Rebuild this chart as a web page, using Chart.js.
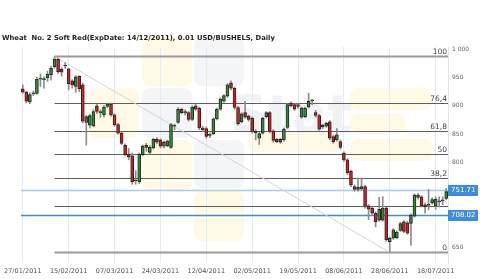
<!DOCTYPE html>
<html><head><meta charset="utf-8">
<script src="https://cdn.jsdelivr.net/npm/chart.js@4.4.1/dist/chart.umd.min.js"></script>
<style>html,body{margin:0;padding:0;background:#fff}canvas{display:block}</style>
</head><body>
<canvas id="c" width="500" height="279"></canvas>
<script>
const chartTitle = "Wheat  No. 2 Soft Red(ExpDate: 14/12/2011), 0.01 USD/BUSHELS, Daily";
const dates = [
"27/01/2011","28/01/2011","31/01/2011",
"01/02/2011","02/02/2011","03/02/2011","04/02/2011","07/02/2011","08/02/2011","09/02/2011","10/02/2011","11/02/2011","14/02/2011",
"15/02/2011","16/02/2011","17/02/2011","18/02/2011","22/02/2011","23/02/2011","24/02/2011","25/02/2011","28/02/2011",
"01/03/2011","02/03/2011","03/03/2011","04/03/2011","07/03/2011","08/03/2011","09/03/2011","10/03/2011","11/03/2011",
"14/03/2011","15/03/2011","16/03/2011","17/03/2011","18/03/2011","21/03/2011","22/03/2011","23/03/2011","24/03/2011",
"25/03/2011","28/03/2011","29/03/2011","30/03/2011","31/03/2011",
"01/04/2011","04/04/2011","05/04/2011","06/04/2011","07/04/2011","08/04/2011","11/04/2011","12/04/2011","13/04/2011",
"14/04/2011","15/04/2011","18/04/2011","19/04/2011","20/04/2011","21/04/2011","25/04/2011","26/04/2011","27/04/2011",
"28/04/2011","29/04/2011",
"02/05/2011","03/05/2011","04/05/2011","05/05/2011","06/05/2011","09/05/2011","10/05/2011","11/05/2011","12/05/2011",
"13/05/2011","16/05/2011","17/05/2011","18/05/2011","19/05/2011","20/05/2011","23/05/2011","24/05/2011","25/05/2011",
"26/05/2011","27/05/2011","31/05/2011",
"01/06/2011","02/06/2011","03/06/2011","06/06/2011","07/06/2011","08/06/2011","09/06/2011","10/06/2011","13/06/2011",
"14/06/2011","15/06/2011","16/06/2011","17/06/2011","21/06/2011","22/06/2011","23/06/2011","24/06/2011","27/06/2011",
"28/06/2011","29/06/2011","30/06/2011",
"01/07/2011","05/07/2011","06/07/2011","07/07/2011","08/07/2011","11/07/2011","12/07/2011","13/07/2011","14/07/2011",
"15/07/2011","18/07/2011","19/07/2011","20/07/2011","21/07/2011"
];
const open  = [930,924,907,921,922,947,946,949,955,969,982,964,970,965,944,934,952,937,871,866,865,900,888,884,899,903,884,867,852,831,
815,812,768,766,814,831,818,826,841,840,829,830,827,864,871,894,888,888,876,900,896,861,860,848,851,877,894,908,917,940,
931,897,872,888,882,878,855,843,852,881,888,856,841,841,840,862,905,902,899,880,881,898,909,888,883,866,864,872,846,840,
837,817,805,785,758,753,754,758,724,720,711,699,699,720,661,667,668,681,696,694,693,706,743,740,726,725,729,724,733,733,737];
const high  = [937,926,923,926,950,956,951,961,970,987,984,967,976,966,946,953,953,940,883,885,893,903,893,901,905,905,886,869,854,833,
825,817,786,817,831,834,830,843,844,842,838,840,869,868,897,896,893,890,900,903,898,864,863,852,879,896,914,920,939,944,
933,899,888,908,884,880,858,853,880,890,890,858,843,843,861,904,907,904,905,898,898,922,911,892,885,868,871,874,848,860,
840,819,807,787,761,773,773,760,726,722,713,739,740,722,669,684,680,695,698,697,710,745,746,742,729,753,738,740,740,740,755];
const low   = [922,905,904,918,920,934,931,943,945,966,957,952,966,928,931,924,925,870,831,861,863,886,880,880,897,882,864,850,832,812,
805,762,762,763,812,820,815,824,833,826,826,828,825,858,869,886,884,873,874,892,858,855,843,844,849,875,892,906,915,928,
894,866,870,878,873,852,840,832,850,879,852,836,835,834,838,860,898,892,896,878,879,896,902,880,857,860,862,840,834,838,
824,802,779,758,750,750,751,720,700,708,687,697,697,662,642,665,666,679,677,674,655,704,736,722,711,717,727,718,722,726,735];
const close = [924,908,920,923,947,948,947,956,966,982,960,959,971,939,937,951,930,873,881,883,890,890,890,898,903,884,867,852,834,814,
810,766,770,815,829,827,827,841,836,829,836,838,867,865,894,888,889,876,898,894,861,858,846,849,877,894,912,918,937,931,
897,868,886,880,876,855,853,851,878,888,855,839,837,836,859,902,900,894,902,896,896,908,910,883,859,863,869,843,837,849,
827,805,782,761,753,757,758,723,718,711,696,718,720,664,667,682,678,693,679,676,708,743,739,724,722,726,735,736,731,734,749];

const xTickLabels = ["27/01/2011","15/02/2011","07/03/2011","24/03/2011","12/04/2011","02/05/2011","19/05/2011","08/06/2011","28/06/2011","18/07/2011"];
const yTickValues = [650,700,750,800,850,900,950,1000];
const yTickLabels = ["650","700","750","800","850","900","950","1 000"];

const swingHighDate = "09/02/2011", swingHigh = 987;
const swingLowDate = "28/06/2011", swingLow = 642;
const fibPercents = [100, 76.4, 61.8, 50, 38.2, 23.6, 0];
const fibLabels = ["100", "76,4", "61,8", "50", "38,2", "", "0"];

const priceLines = [751.71, 708.02];
const priceLabels = ["751.71", "708.02"];
const priceLineColors = ["#a9cbee", "#3b8fdd"];

const UP = "#2f8f2f", DOWN = "#e5171d";

Chart.defaults.font.family = "'DejaVu Sans', Verdana, sans-serif";

const decor = {
  id: 'decor',
  beforeDraw(chart) {
    const c = chart.ctx;
    c.save();
    c.fillStyle = '#fff';
    c.fillRect(0, 0, chart.width, chart.height);
    // faint watermark tiles
    const tile = (x, y, w, h, col) => {
      c.fillStyle = col; c.beginPath();
      if (c.roundRect) c.roundRect(x, y, w, h, 8); else c.rect(x, y, w, h);
      c.fill();
    };
    const Y = 'rgba(250,236,160,0.28)', G = 'rgba(215,220,228,0.28)';
    tile(142, 37, 50, 49, Y); tile(194, 37, 50, 49, G);
    tile(89, 88, 50, 50, Y); tile(142, 88, 50, 50, G);
    tile(142, 140, 50, 50, Y); tile(194, 140, 50, 48, G);
    tile(194, 191, 50, 50, Y);
    tile(248, 132, 92, 20, Y);
    tile(350, 88, 82, 22, Y); tile(350, 114, 55, 20, Y); tile(350, 139, 82, 22, Y);
    c.fillStyle = 'rgba(190,195,205,0.22)';
    c.font = "bold 52px 'DejaVu Sans'";
    c.textBaseline = 'alphabetic';
    c.fillText('Stat', 230, 132);
    c.restore();
  },
  beforeDatasetsDraw(chart) {
    const c = chart.ctx, xs = chart.scales.x, ys = chart.scales.y, a = chart.chartArea;
    c.save();
    // price lines
    priceLines.forEach((v, k) => {
      const y = Math.round(ys.getPixelForValue(v)) + 0.5;
      c.strokeStyle = priceLineColors[k]; c.lineWidth = 1.5;
      c.beginPath(); c.moveTo(a.left, y); c.lineTo(a.right, y); c.stroke();
    });
    // fibonacci levels
    const x0 = xs.getPixelForValue(dates.indexOf(swingHighDate));
    fibPercents.forEach((p, k) => {
      const v = swingLow + (swingHigh - swingLow) * p / 100;
      const y = Math.round(ys.getPixelForValue(v)) + 0.5;
      const edge = (p === 100 || p === 0);
      c.strokeStyle = edge ? '#9a9a9a' : '#5e5e5e';
      c.lineWidth = edge ? 2 : 1;
      c.beginPath(); c.moveTo(x0, y); c.lineTo(a.right, y); c.stroke();
      if (fibLabels[k]) {
        c.fillStyle = '#444'; c.font = "7.5px 'DejaVu Sans'";
        c.textAlign = 'right'; c.textBaseline = 'alphabetic';
        c.fillText(fibLabels[k], a.right - 1, y - 2.5);
      }
    });
    c.restore();
  },
  afterDraw(chart) {
    const c = chart.ctx, ys = chart.scales.y, a = chart.chartArea;
    c.save();
    priceLines.forEach((v, k) => {
      const y = ys.getPixelForValue(v);
      c.fillStyle = '#3c8edb';
      c.fillRect(a.right, Math.round(y) - 5, 30, 11);
      c.fillStyle = '#fff'; c.font = "7px 'DejaVu Sans'";
      c.textAlign = 'left'; c.textBaseline = 'middle';
      c.fillText(priceLabels[k], a.right + 3, Math.round(y) + 0.5);
    });
    c.fillStyle = '#1e1e1e'; c.font = "bold 6.8px 'DejaVu Sans'";
    c.textAlign = 'left'; c.textBaseline = 'alphabetic';
    c.fillText(chartTitle, 2, 40);
    c.restore();
  }
};

new Chart(document.getElementById('c'), {
  type: 'bar',
  data: {
    labels: dates,
    datasets: [
      {
        type: 'line', label: 'trend',
        data: [{x: swingHighDate, y: swingHigh}, {x: swingLowDate, y: swingLow}],
        borderColor: '#d6d6d6', borderWidth: 1, pointRadius: 0, order: 5
      },
      {
        label: 'wick', data: low.map((l, i) => [l, high[i]]),
        backgroundColor: '#8c8c8c', barThickness: 1, grouped: false, order: 4
      },
      {
        label: 'body', data: open.map((o, i) => [o, close[i]]),
        backgroundColor: open.map((o, i) => close[i] >= o ? UP : DOWN),
        borderColor: '#262626', borderWidth: 1, borderSkipped: false,
        barThickness: 3, minBarLength: 1, grouped: false, order: 3
      }
    ]
  },
  options: {
    responsive: false, animation: false, devicePixelRatio: 1,
    layout: {padding: {top: 47, left: 17, right: 0, bottom: 0}},
    plugins: {legend: {display: false}, tooltip: {enabled: false}, title: {display: false}},
    scales: {
      x: {
        type: 'category', offset: true,
        grid: {offset: false, color: '#e2ecf6', drawTicks: false, lineWidth: 1},
        border: {display: false},
        ticks: {autoSkip: false, maxRotation: 0, minRotation: 0, padding: 4, color: '#555',
                font: {size: 6.5}},
        afterBuildTicks: s => { s.ticks = xTickLabels.map(d => ({value: dates.indexOf(d)})); },
        afterFit: s => { s.height = 16; }
      },
      y: {
        position: 'right', min: 623.5, max: 1003.5,
        grid: {display: false, drawTicks: false},
        border: {display: true, color: '#dce8f4'},
        ticks: {padding: 4, color: '#666', font: {size: 6},
                callback: v => { const k = yTickValues.indexOf(v); return k >= 0 ? yTickLabels[k] : ''; }},
        afterBuildTicks: s => { s.ticks = yTickValues.map(v => ({value: v})); },
        afterFit: s => { s.width = 52; }
      }
    }
  },
  plugins: [decor]
});
</script>
</body></html>
